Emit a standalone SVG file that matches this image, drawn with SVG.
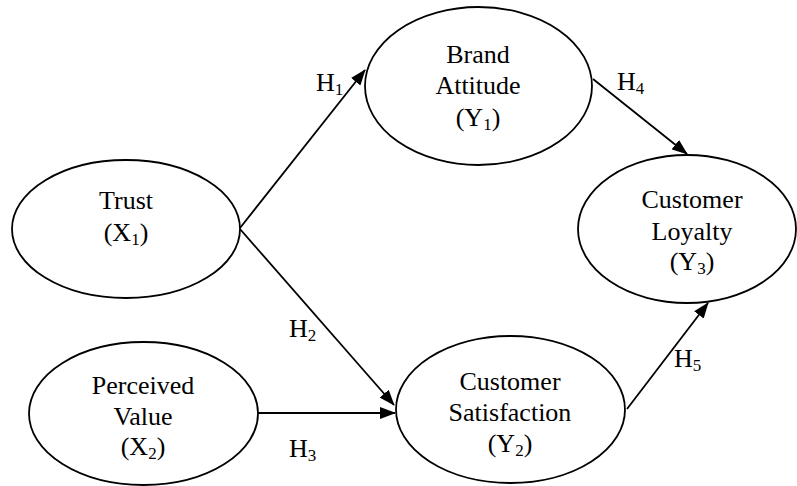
<svg xmlns="http://www.w3.org/2000/svg" width="797" height="486" viewBox="0 0 797 486">
<style>
  .node { fill: #ffffff; stroke: #000000; stroke-width: 1.8; }
  .lbl { font-family: "Liberation Serif", "Times New Roman", serif; font-size: 26px; fill: #000000; text-anchor: middle; }
  .h { font-family: "Liberation Serif", "Times New Roman", serif; font-size: 26px; fill: #000000; }
  .sub { font-size: 17px; }
  .edge { stroke: #000000; stroke-width: 1.8; fill: none; marker-end: url(#arrow); }
</style>
<defs>
  <marker id="arrow" markerUnits="userSpaceOnUse" markerWidth="16" markerHeight="12" refX="15" refY="6" orient="auto">
    <path d="M0,0 L16,6 L0,12 z" fill="#000000"/>
  </marker>
</defs>
<rect width="797" height="486" fill="#ffffff"/>
<g id="connectors">
  <line class="edge" x1="240" y1="228" x2="365" y2="70"/>
  <line class="edge" x1="240" y1="229" x2="394" y2="405"/>
  <line class="edge" x1="258" y1="413" x2="395" y2="413"/>
  <line class="edge" x1="593" y1="79" x2="687" y2="154"/>
  <line class="edge" x1="627" y1="409" x2="708" y2="303"/>
  <text class="h" x="316" y="91">H<tspan class="sub" dy="4">1</tspan></text>
  <text class="h" x="289" y="337">H<tspan class="sub" dy="4">2</tspan></text>
  <text class="h" x="289" y="457">H<tspan class="sub" dy="4">3</tspan></text>
  <text class="h" x="617" y="90">H<tspan class="sub" dy="4">4</tspan></text>
  <text class="h" x="674" y="367">H<tspan class="sub" dy="4">5</tspan></text>
</g>
<g id="trust">
  <ellipse class="node" cx="126" cy="229" rx="114" ry="69"/>
  <text class="lbl" x="126" y="209">Trust</text>
  <text class="lbl" x="126" y="241">(X<tspan class="sub" dy="4">1</tspan><tspan dy="-4">)</tspan></text>
</g>
<g id="brand-attitude">
  <ellipse class="node" cx="478.5" cy="86" rx="113.5" ry="79"/>
  <text class="lbl" x="478" y="63">Brand</text>
  <text class="lbl" x="478" y="94">Attitude</text>
  <text class="lbl" x="478" y="126">(Y<tspan class="sub" dy="4">1</tspan><tspan dy="-4">)</tspan></text>
</g>
<g id="customer-loyalty">
  <ellipse class="node" cx="687" cy="229" rx="109" ry="74"/>
  <text class="lbl" x="692" y="208">Customer</text>
  <text class="lbl" x="692" y="240">Loyalty</text>
  <text class="lbl" x="692" y="270">(Y<tspan class="sub" dy="4">3</tspan><tspan dy="-4">)</tspan></text>
</g>
<g id="perceived-value">
  <ellipse class="node" cx="143.5" cy="413.5" rx="114.5" ry="71.5"/>
  <text class="lbl" x="143" y="394">Perceived</text>
  <text class="lbl" x="143" y="425">Value</text>
  <text class="lbl" x="143" y="455">(X<tspan class="sub" dy="4">2</tspan><tspan dy="-4">)</tspan></text>
</g>
<g id="customer-satisfaction">
  <ellipse class="node" cx="510.5" cy="409.5" rx="114.5" ry="73.5"/>
  <text class="lbl" x="510" y="390">Customer</text>
  <text class="lbl" x="510" y="421">Satisfaction</text>
  <text class="lbl" x="510" y="452">(Y<tspan class="sub" dy="4">2</tspan><tspan dy="-4">)</tspan></text>
</g>
</svg>
